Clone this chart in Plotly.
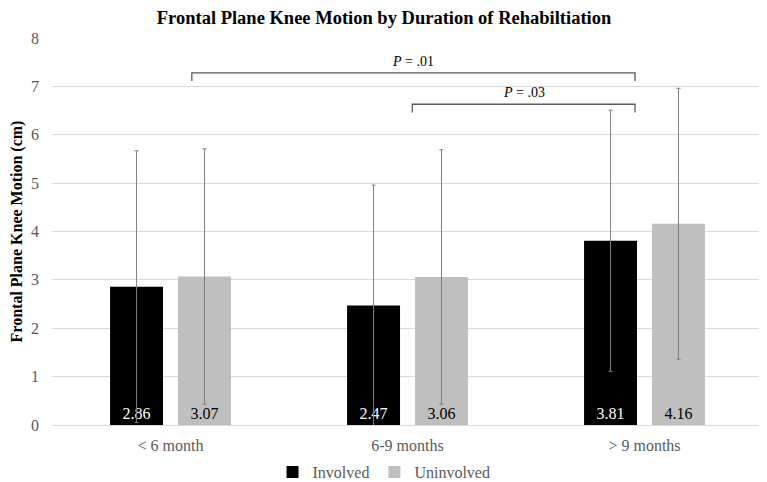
import plotly.graph_objects as go

categories = ["< 6 month", "6-9 months", "> 9 months"]
involved = [2.86, 2.47, 3.81]
uninvolved = [3.07, 3.06, 4.16]
involved_sd = [2.81, 2.49, 2.70]
uninvolved_sd = [2.64, 2.63, 2.80]

# significance brackets (x in category index units)
bracket_x0 = [0.09, 1.02]
bracket_x1 = [1.96, 1.96]
bracket_y = [7.28, 6.63]
bracket_labels = ["<i>P</i> = .01", "<i>P</i> = .03"]

FONT = "Times New Roman, Liberation Serif, serif"
GRID = "#d9d9d9"
BAR_W = 0.2235

# The page body adds an 8px margin, so the figure is 8px smaller
W, H = 759, 474

fig = go.Figure()
fig.add_trace(go.Bar(
    name="Involved", x=categories, y=involved,
    marker=dict(color="#000000", line=dict(width=0)),
    width=[BAR_W] * 3, offset=[-0.255] * 3,
    error_y=dict(type="data", array=involved_sd, visible=True,
                 color="#7f7f7f", thickness=1, width=2),
    text=[f"{v:.2f}" for v in involved], textposition="inside",
    insidetextanchor="start", textangle=0, constraintext="none",
    textfont=dict(family=FONT, size=16, color="#ffffff"),
))
fig.add_trace(go.Bar(
    name="Uninvolved", x=categories, y=uninvolved,
    marker=dict(color="#bfbfbf", line=dict(width=0)),
    width=[BAR_W] * 3, offset=[0.0316] * 3,
    error_y=dict(type="data", array=uninvolved_sd, visible=True,
                 color="#7f7f7f", thickness=1, width=2),
    text=[f"{v:.2f}" for v in uninvolved], textposition="inside",
    insidetextanchor="start", textangle=0, constraintext="none",
    textfont=dict(family=FONT, size=16, color="#000000"),
))

drop = 0.17
for x0, x1, y, lab in zip(bracket_x0, bracket_x1, bracket_y, bracket_labels):
    fig.add_shape(type="path",
                  path=f"M {x0},{y - drop} L {x0},{y} L {x1},{y} L {x1},{y - drop}",
                  xref="x", yref="y", line=dict(color="#595959", width=1.3))
    fig.add_annotation(x=(x0 + x1) / 2, y=y, xref="x", yref="y",
                       text=lab, showarrow=False, yanchor="bottom", yshift=2,
                       font=dict(family=FONT, size=14, color="#000000"))

fig.update_layout(
    width=W, height=H,
    margin=dict(l=44, r=4, t=30, b=57, autoexpand=False),
    paper_bgcolor="white", plot_bgcolor="white",
    barmode="overlay",
    font=dict(family=FONT, color="#595959"),
    title=dict(text="<b>Frontal Plane Knee Motion by Duration of Rehabiltiation</b>",
               x=376 / W, xanchor="center", y=1 - 3 / H, yanchor="top",
               pad=dict(t=0, b=0, l=0, r=0),
               font=dict(family=FONT, size=18.5, color="#000000")),
    showlegend=True,
    legend=dict(orientation="h", x=(376 - 44) / 711, xanchor="center",
                y=-0.1214, yanchor="middle",
                font=dict(family=FONT, size=16, color="#595959"),
                itemwidth=30, tracegroupgap=0, bgcolor="rgba(0,0,0,0)"),
    xaxis=dict(type="category", showgrid=False, ticks="", automargin=False,
               showline=True, linecolor=GRID, linewidth=1,
               tickfont=dict(family=FONT, size=16, color="#595959"),
               ticklabelstandoff=6, range=[-0.5, 2.5]),
    yaxis=dict(range=[0, 8], dtick=1, showgrid=True, gridcolor=GRID, gridwidth=1,
               zeroline=False, showline=False, ticks="", automargin=False,
               tickfont=dict(family=FONT, size=16, color="#595959"),
               ticklabelstandoff=12,
               title=dict(text="<b>Frontal Plane Knee Motion (cm)</b>", standoff=6,
                          font=dict(family=FONT, size=16, color="#000000"))),
)

fig.write_html("out.html")
